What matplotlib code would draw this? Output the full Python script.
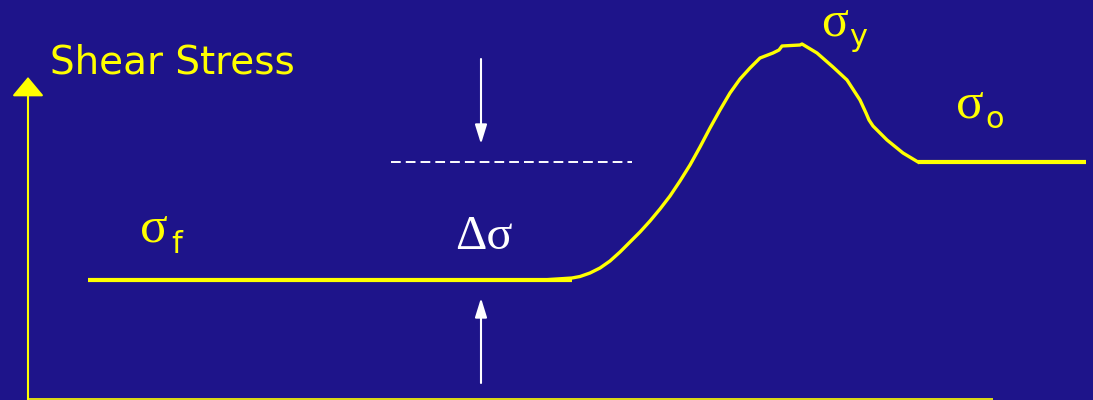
import matplotlib
matplotlib.use('Agg')
import matplotlib.pyplot as plt

# ================= data (picture units: x right, y down) =================
BG = '#1E148A'
YELLOW = '#FFFF00'

# yield-point curve
curve_x = [542, 572, 580, 590, 600, 610, 620, 630, 640, 650, 660, 670, 680, 690,
           700, 710, 720, 730, 740, 750, 760, 773, 779, 782, 800, 802, 817, 833,
           847, 860, 866, 869, 873, 887, 903, 918]
curve_y = [280, 278, 276.5, 273, 268, 261, 252, 242, 232, 221, 209, 196, 181, 165,
           147, 128, 110, 93, 79, 68, 58, 53, 50, 46, 45, 44, 53, 67,
           80, 100, 113, 120, 126, 140, 153, 162]

# flow stress plateau before and after
flow_x = [88, 572]
flow_y = [280, 280]
lower_x = [918, 1086]
lower_y = [162, 162]

# dashed reference level and the delta arrows
dash_x = [391, 632]
dash_y = [161.7, 161.7]
arrow_down = [(481, 59), (481, 144)]
arrow_up = [(481, 383), (481, 298)]

# axes of the sketch
yaxis = [(28, 400), (28, 77)]
xaxis_x = [28, 993]
xaxis_y = [399, 399]

labels = [
    # text, x, baseline y, size, colour, family
    ('Shear Stress', 50, 73, 28, YELLOW, 'DejaVu Sans'),
    (r'$\mathregular{σ}$', 139, 242, 37, YELLOW, 'Liberation Serif'),
    ('f', 171, 253, 22, YELLOW, 'DejaVu Sans'),
    (r'$\mathregular{σ}$', 821, 35, 36, YELLOW, 'Liberation Serif'),
    ('y', 849, 46, 22, YELLOW, 'DejaVu Sans'),
    (r'$\mathregular{σ}$', 955, 118, 37, YELLOW, 'Liberation Serif'),
    ('o', 985, 128, 22, YELLOW, 'DejaVu Sans'),
    ('Δσ', 455, 249, 35, 'white', 'Liberation Serif'),
]
# =======================================================================

fig = plt.figure(figsize=(10.93, 4.0), dpi=100)
fig.patch.set_facecolor(BG)
ax = fig.add_axes([0, 0, 1, 1])
ax.set_facecolor(BG)
ax.set_xlim(0, 1093)
ax.set_ylim(400, 0)
ax.axis('off')

# axes lines
ax.plot(xaxis_x, xaxis_y, color=YELLOW, lw=1.2, solid_capstyle='butt')
ax.annotate('', xy=yaxis[1], xytext=yaxis[0],
            arrowprops=dict(arrowstyle='-|>,head_length=0.6,head_width=0.5',
                            mutation_scale=20, color=YELLOW, lw=1.5,
                            shrinkA=0, shrinkB=0))

# curves
ax.plot(flow_x, flow_y, color=YELLOW, lw=3.0, solid_capstyle='butt')
ax.plot(curve_x, curve_y, color=YELLOW, lw=2.4, solid_joinstyle='round')
ax.plot(lower_x, lower_y, color=YELLOW, lw=3.0, solid_capstyle='butt')

# delta sigma marker
ax.plot(dash_x, dash_y, color='white', lw=1.4, dashes=(5, 2.6))
for a in (arrow_down, arrow_up):
    ax.annotate('', xy=a[1], xytext=a[0],
                arrowprops=dict(arrowstyle='-|>,head_length=0.58,head_width=0.18',
                                mutation_scale=20, color='white', lw=1.5,
                                shrinkA=0, shrinkB=0))

for txt, x, y, size, col, fam in labels:
    ax.text(x, y, txt, fontsize=size, color=col, family=fam,
            ha='left', va='baseline')

fig.savefig('out.png', dpi=100, facecolor=BG)
